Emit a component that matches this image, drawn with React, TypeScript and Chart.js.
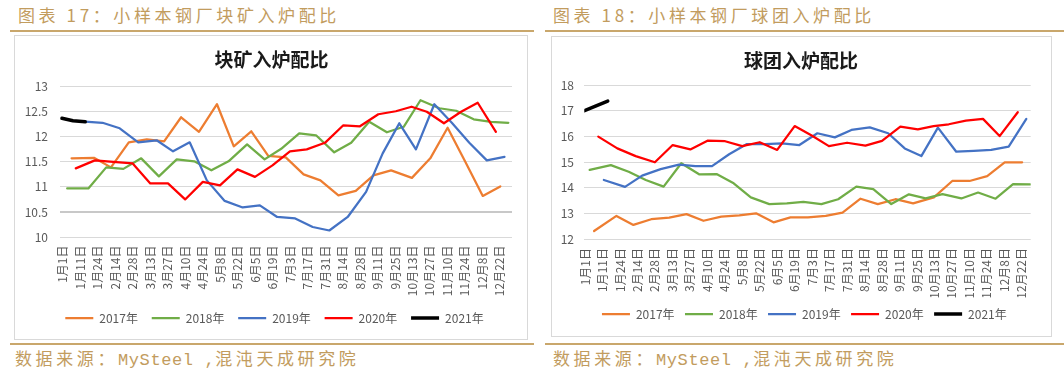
import React, { useEffect, useRef } from "react";
import { Chart, registerables } from "chart.js";

Chart.register(...registerables);

// ---------- data ----------
const xLabels = [
  "1月1日", "1月11日", "1月24日", "2月14日", "2月28日", "3月13日", "3月27日",
  "4月10日", "4月24日", "5月8日", "5月22日", "6月5日", "6月19日", "7月3日",
  "7月17日", "7月31日", "8月14日", "8月28日", "9月11日", "9月25日", "10月13日",
  "10月27日", "11月10日", "11月24日", "12月8日", "12月22日",
];

// survey dates of each year, expressed in category-label units
const x2017 = [0.52, 1.8, 2.77, 3.79, 4.82, 5.81, 6.78, 7.8, 8.83, 9.79, 10.79, 11.76, 12.76, 13.78, 14.74, 15.77, 16.76, 17.77, 18.78, 19.97, 21.02, 22.01, 23.02, 24.02, 25.02];
const x2018 = [0.27, 1.48, 2.5, 3.48, 4.5, 5.51, 6.53, 7.53, 8.51, 9.49, 10.55, 11.55, 12.5, 13.53, 14.49, 15.53, 16.5, 17.53, 18.54, 19.5, 20.46, 21.54, 22.5, 23.5, 24.5, 25.48];
const x2019 = [1.08, 2.29, 3.27, 4.33, 5.38, 6.32, 7.27, 8.25, 9.27, 10.3, 11.28, 12.27, 13.3, 14.3, 15.25, 16.3, 17.35, 18.3, 19.25, 20.2, 21.25, 22.25, 23.25, 24.25, 25.26];
const x2020 = [0.76, 1.85, 2.9, 4.0, 5.02, 6.03, 7.01, 8.02, 9.0, 10.0, 11.0, 12.0, 13.0, 13.96, 15.0, 16.05, 17.0, 18.05, 19.05, 19.95, 20.82, 21.8, 22.78, 23.73, 24.77];
const x2021 = [-0.03, 0.6, 1.3];

// 块矿入炉配比 (%)
const lump2017 = [11.57, 11.58, 11.39, 11.89, 11.95, 11.91, 12.39, 12.1, 12.65, 11.81, 12.11, 11.62, 11.59, 11.25, 11.13, 10.83, 10.92, 11.23, 11.33, 11.18, 11.57, 12.18, 11.5, 10.82, 11.01];
const lump2018 = [10.97, 10.97, 11.39, 11.36, 11.57, 11.21, 11.55, 11.51, 11.33, 11.51, 11.85, 11.55, 11.76, 12.07, 12.03, 11.69, 11.88, 12.3, 12.09, 12.2, 12.73, 12.57, 12.52, 12.35, 12.3, 12.28];
const lump2019 = [12.31, 12.28, 12.17, 11.89, 11.93, 11.71, 11.89, 11.13, 10.72, 10.59, 10.63, 10.4, 10.37, 10.2, 10.13, 10.4, 10.9, 11.67, 12.27, 11.75, 12.65, 12.28, 11.88, 11.53, 11.6];
const lump2020 = [11.37, 11.53, 11.5, 11.47, 11.07, 11.07, 10.75, 11.1, 11.03, 11.35, 11.2, 11.43, 11.71, 11.75, 11.88, 12.23, 12.21, 12.45, 12.51, 12.6, 12.5, 12.27, 12.5, 12.68, 12.1];
const lump2021 = [12.37, 12.32, 12.3];

// 球团入炉配比 (%)
const pellet2017 = [12.31, 12.9, 12.55, 12.77, 12.83, 12.97, 12.71, 12.87, 12.92, 13.0, 12.65, 12.84, 12.84, 12.9, 13.03, 13.57, 13.36, 13.55, 13.39, 13.62, 14.26, 14.26, 14.45, 14.99, 14.99];
const pellet2018 = [14.69, 14.88, 14.62, 14.3, 14.04, 14.95, 14.52, 14.53, 14.17, 13.62, 13.36, 13.39, 13.45, 13.36, 13.55, 14.04, 13.94, 13.36, 13.74, 13.58, 13.75, 13.58, 13.81, 13.57, 14.14, 14.13];
const pellet2019 = [14.3, 14.03, 14.47, 14.72, 14.9, 14.84, 14.84, 15.3, 15.7, 15.7, 15.73, 15.66, 16.12, 15.96, 16.25, 16.35, 16.12, 15.53, 15.23, 16.34, 15.4, 15.43, 15.47, 15.6, 16.68];
const pellet2020 = [15.99, 15.53, 15.23, 14.99, 15.66, 15.49, 15.83, 15.81, 15.62, 15.77, 15.47, 16.4, 16.02, 15.62, 15.75, 15.64, 15.82, 16.38, 16.27, 16.4, 16.47, 16.61, 16.68, 16.01, 16.94];
const pellet2021 = [17.0, 17.18, 17.37];

const seriesNames = ["2017年", "2018年", "2019年", "2020年", "2021年"];
const seriesColors = ["#ED7D31", "#70AD47", "#4472C4", "#FF0000", "#000000"];
const seriesWidths = [2.25, 2.25, 2.25, 2.25, 3.5];
const seriesX = [x2017, x2018, x2019, x2020, x2021];

// ---------- styling ----------
const FONT = '"Noto Sans CJK SC", "Noto Sans", sans-serif';
const GOLD = "#C29C5E";
const RULE = "#C9A76C";

type Geom = {
  boxLeft: number; boxTop: number; boxW: number; boxH: number;
  xMin: number; xMax: number;
  pad: { left: number; right: number; top: number; bottom: number };
  yAxisW: number; xAxisH: number;
  yTickPad: number; xTickPad: number;
  titleBottom: number; legendPad: number;
  legendShift: number; titleShift: number;
  heavyGrid: number | null;
};

const leftGeom: Geom = {
  boxLeft: 14, boxTop: 35, boxW: 514, boxH: 305,
  xMin: -0.17, xMax: 25.69,
  pad: { left: 0, right: 15, top: 12.6, bottom: 5 },
  yAxisW: 44.5, xAxisH: 61.2,
  yTickPad: 11.5, xTickPad: 8.5,
  titleBottom: 15.3, legendPad: 13.8,
  legendShift: 11, titleShift: 8,
  heavyGrid: 10.5,
};

const rightGeom: Geom = {
  boxLeft: 551, boxTop: 36, boxW: 501, boxH: 301,
  xMin: -0.04, xMax: 25.51,
  pad: { left: 0, right: 20.3, top: 12.6, bottom: 6 },
  yAxisW: 32.3, xAxisH: 58.6,
  yTickPad: 10.3, xTickPad: 9,
  titleBottom: 12.6, legendPad: 10.4,
  legendShift: 13, titleShift: 9.7,
  heavyGrid: null,
};

// moves the title and legend blocks sideways after layout
const shiftPlugin = {
  id: "shiftBoxes",
  afterLayout(chart: any, _args: any, opts: any) {
    const ls = (opts && opts.legendShift) || 0;
    const ts = (opts && opts.titleShift) || 0;
    if (chart.legend) {
      chart.legend.left += ls;
      chart.legend.right += ls;
    }
    if (chart.titleBlock) {
      chart.titleBlock.left += ts;
      chart.titleBlock.right += ts;
    }
  },
};

function makeDatasets(ys: number[][]) {
  return ys.map((arr, i) => ({
    label: seriesNames[i],
    data: arr.map((y, j) => ({ x: seriesX[i][j], y })),
    borderColor: seriesColors[i],
    backgroundColor: seriesColors[i],
    borderWidth: seriesWidths[i],
    pointRadius: 0,
    pointHoverRadius: 0,
    tension: 0,
    borderJoinStyle: "round" as const,
    borderCapStyle: "round" as const,
    order: 5 - i,
  }));
}

function Panel(props: {
  g: Geom; title: string; yMin: number; yMax: number; yStep: number; ys: number[][];
}) {
  const { g, title, yMin, yMax, yStep, ys } = props;
  const ref = useRef<HTMLCanvasElement | null>(null);
  const cw = g.boxW - 2;
  const ch = g.boxH - 2;

  useEffect(() => {
    if (!ref.current) return;
    const isHeavy = (c: any) => g.heavyGrid !== null && c.tick && Math.abs(c.tick.value - (g.heavyGrid as number)) < 1e-6;
    const chart = new Chart(ref.current, {
      type: "line",
      data: { datasets: makeDatasets(ys) as any },
      plugins: [shiftPlugin],
      options: {
        responsive: false,
        animation: false,
        events: [],
        layout: { padding: g.pad },
        scales: {
          x: {
            type: "linear",
            min: g.xMin,
            max: g.xMax,
            grid: { display: false, drawTicks: false },
            border: { display: false },
            afterBuildTicks: (s: any) => {
              s.ticks = xLabels.map((_, i) => ({ value: i }));
            },
            afterFit: (s: any) => {
              s.height = g.xAxisH;
              s.paddingLeft = 0;
              s.paddingRight = 0;
            },
            ticks: {
              autoSkip: false,
              maxRotation: 90,
              minRotation: 90,
              padding: g.xTickPad,
              color: "#595959",
              font: { size: 12, family: FONT },
              callback: (v: any) => xLabels[v as number] ?? "",
            },
          },
          y: {
            type: "linear",
            min: yMin,
            max: yMax,
            grid: {
              color: (c: any) => (isHeavy(c) ? "#C8C8C8" : "#D9D9D9"),
              lineWidth: (c: any) => (isHeavy(c) ? 2 : 1),
              drawTicks: false,
            },
            border: { display: false },
            afterFit: (s: any) => {
              s.width = g.yAxisW;
            },
            ticks: {
              stepSize: yStep,
              padding: g.yTickPad,
              color: "#595959",
              font: { size: 12, family: FONT },
              callback: (v: any) => String(Math.round(Number(v) * 10) / 10),
            },
          },
        },
        plugins: {
          shiftBoxes: { legendShift: g.legendShift, titleShift: g.titleShift },
          title: {
            display: true,
            text: title,
            color: "#1A1A1A",
            font: { size: 19, weight: "bold", family: FONT },
            padding: { top: 0, bottom: g.titleBottom },
          },
          legend: {
            display: true,
            position: "bottom",
            labels: {
              usePointStyle: true,
              pointStyle: "line",
              pointStyleWidth: 28,
              padding: g.legendPad,
              color: "#595959",
              font: { size: 12, family: FONT },
              sort: (a: any, b: any) => a.datasetIndex - b.datasetIndex,
            },
          },
          tooltip: { enabled: false },
        },
      } as any,
    });
    return () => chart.destroy();
  }, []);

  return (
    <div
      style={{
        position: "absolute",
        left: g.boxLeft,
        top: g.boxTop,
        width: g.boxW,
        height: g.boxH,
        border: "1px solid #D9D9D9",
        boxSizing: "border-box",
        background: "#fff",
      }}
    >
      <canvas
        ref={ref}
        width={cw}
        height={ch}
        style={{ position: "absolute", left: 0, top: 0, width: cw, height: ch }}
      />
    </div>
  );
}

const headStyle: React.CSSProperties = {
  position: "absolute",
  fontFamily: FONT,
  fontSize: 17,
  lineHeight: "20px",
  letterSpacing: "3.6px",
  color: GOLD,
  whiteSpace: "nowrap",
};

function Source(props: { left: number }) {
  return (
    <div style={{ ...headStyle, left: props.left, top: 348 }}>
      数据来源：
      <span style={{ fontFamily: '"Liberation Mono", "DejaVu Sans Mono", monospace', letterSpacing: "0.6px" }}>
        MySteel ,
      </span>
      混沌天成研究院
    </div>
  );
}

export default function App() {
  return (
    <div
      style={{
        position: "absolute",
        left: 0,
        top: 0,
        width: 1064,
        height: 370,
        background: "#fff",
        overflow: "hidden",
      }}
    >
      <div style={{ ...headStyle, left: 18, top: 5 }}>图表 17：小样本钢厂块矿入炉配比</div>
      <div style={{ ...headStyle, left: 553, top: 5 }}>图表 18：小样本钢厂球团入炉配比</div>
      <div style={{ position: "absolute", left: 10, top: 30, width: 524, height: 1.5, background: RULE }} />
      <div style={{ position: "absolute", left: 545, top: 30, width: 519, height: 1.5, background: RULE }} />

      <Panel
        g={leftGeom}
        title="块矿入炉配比"
        yMin={10}
        yMax={13}
        yStep={0.5}
        ys={[lump2017, lump2018, lump2019, lump2020, lump2021]}
      />
      <Panel
        g={rightGeom}
        title="球团入炉配比"
        yMin={12}
        yMax={18}
        yStep={1}
        ys={[pellet2017, pellet2018, pellet2019, pellet2020, pellet2021]}
      />

      <div style={{ position: "absolute", left: 10, top: 343, width: 524, height: 1.5, background: RULE }} />
      <div style={{ position: "absolute", left: 545, top: 343, width: 519, height: 1.5, background: RULE }} />
      <Source left={15} />
      <Source left={553} />
    </div>
  );
}
